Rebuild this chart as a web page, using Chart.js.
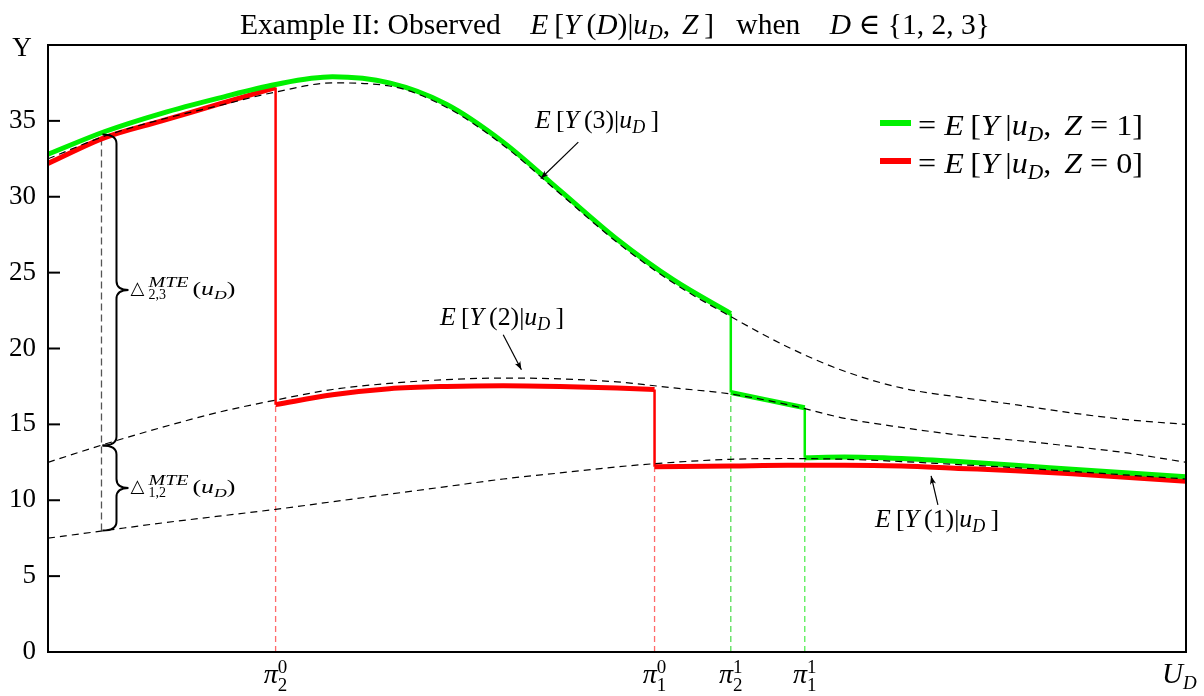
<!DOCTYPE html>
<html><head><meta charset="utf-8">
<script src="https://cdn.jsdelivr.net/npm/chart.js@4.4.1/dist/chart.umd.min.js"></script>
<style>html,body{margin:0;padding:0;background:#fff}canvas{display:block}</style>
</head><body>
<canvas id="chart" width="1204" height="696"></canvas>
<script>
// potential outcome curves E[Y(d)|u_D] on a grid of U_D
const uGrid = [0,0.05,0.1,0.15,0.2,0.25,0.3,0.35,0.4,0.45,0.5,0.55,0.6,0.65,0.7,0.75,0.8,0.85,0.9,0.95,1];
const eY3 = [32.5,34.0,35.1,36.0,36.9,37.5,37.3,35.9,33.4,30.2,27.0,24.3,22.1,20.1,18.5,17.4,16.8,16.3,15.75,15.3,15.0];
const eY2 = [12.5,13.7,14.8,15.8,16.6,17.3,17.7,17.95,18.05,18.0,17.8,17.4,17.0,16.3,15.4,14.8,14.3,13.95,13.55,13.1,12.5];
const eY1 = [7.5,8.0,8.5,8.95,9.4,9.9,10.4,10.9,11.4,11.8,12.2,12.5,12.7,12.75,12.7,12.55,12.35,12.15,11.9,11.65,11.4];

// observed E[Y|u_D, Z=0] (red), three pieces
const redU1 = [0,0.05,0.1,0.15,0.2];
const redY1 = [32.2,33.9,35.0,36.1,37.2];
const redU2 = [0.2,0.25,0.3,0.35,0.4,0.45,0.5,0.533];
const redY2 = [16.3,16.95,17.35,17.5,17.55,17.5,17.4,17.3];
const redU3 = [0.533,0.6,0.65,0.7,0.75,0.8,0.85,0.9,0.95,1];
const redY3 = [12.2,12.25,12.3,12.3,12.25,12.1,11.95,11.75,11.5,11.25];

// observed E[Y|u_D, Z=1] (green), three pieces
const grnU1 = [0,0.05,0.1,0.15,0.2,0.25,0.3,0.35,0.4,0.45,0.5,0.55,0.6];
const grnY1 = [32.8,34.3,35.5,36.5,37.4,37.9,37.5,36.1,33.6,30.4,27.2,24.5,22.3];
const grnU2 = [0.6,0.665];
const grnY2 = [17.1,16.1];
const grnU3 = [0.665,0.7,0.75,0.8,0.85,0.9,0.95,1];
const grnY3 = [12.8,12.85,12.75,12.55,12.3,12.05,11.8,11.55];

// cut points pi_d^z and their labels
const piU = [0.2,0.533,0.6,0.665];
const piSub = ['2','1','2','1'];
const piSup = ['0','0','1','1'];

// MTE braces
const mteU = 0.047;
const mteY = [34.1,13.6,8.0];

const yMin = 0, yMax = 40, yStep = 5;

const pts = (us, ys) => us.map((u,i) => ({x:u, y:ys[i]}));
const first = a => a[0], last = a => a[a.length-1];

const RED = '#ff0000', GREEN = '#00f000';
function curve(data, color, width, order, dash){
  return {data, borderColor:color, borderWidth:width, pointRadius:0, fill:false, order,
    cubicInterpolationMode:'monotone', borderDash:dash||[], borderCapStyle:'butt'};
}
function vline(u, y0, y1, color, width, order, dash){
  return {data:[{x:u,y:y0},{x:u,y:y1}], borderColor:color, borderWidth:width, pointRadius:0,
    fill:false, order, tension:0, borderDash:dash||[], borderCapStyle:'butt'};
}

const datasets = [
  curve(pts(uGrid,eY3),'#000',1.2,0,[7,5]),
  curve(pts(uGrid,eY2),'#000',1.2,0,[7,5]),
  curve(pts(uGrid,eY1),'#000',1.2,0,[7,5]),
  curve(pts(grnU1,grnY1),GREEN,5,1),
  curve(pts(grnU2,grnY2),GREEN,5,1),
  curve(pts(grnU3,grnY3),GREEN,5,1),
  vline(piU[2],last(grnY1),first(grnY2),GREEN,2.5,1),
  vline(piU[3],last(grnY2),first(grnY3),GREEN,2.5,1),
  curve(pts(redU1,redY1),RED,5,2),
  curve(pts(redU2,redY2),RED,5,2),
  curve(pts(redU3,redY3),RED,5,2),
  vline(piU[0],last(redY1),first(redY2),RED,2.5,2),
  vline(piU[1],last(redY2),first(redY3),RED,2.5,2),
  vline(piU[0],0,first(redY2),'#ff6b6b',1.3,5,[6,4]),
  vline(piU[1],0,first(redY3),'#ff6b6b',1.3,5,[6,4]),
  vline(piU[2],0,first(grnY2),'#55dd55',1.3,5,[6,4]),
  vline(piU[3],0,first(grnY3),'#55ee55',1.3,5,[6,4]),
  vline(mteU,mteY[2],mteY[0],'#555',1.3,5,[7,4])
];

const SERIF = '"Liberation Serif","DejaVu Serif",serif';
const R = s => s+'px '+SERIF;
const I = s => 'italic '+s+'px '+SERIF;
const TS = '\u2009';

// runs: [text, font, dy, noAdvance]; width (optional) fits the runs to that width
function mtext(ctx, x, y, runs, align, width){
  let w = 0;
  runs.forEach(r => { ctx.font = r[1]; if (!r[3]) w += ctx.measureText(r[0]).width; });
  const sx = width ? width / w : 1;
  const tw = w * sx;
  const x0 = align==='center' ? x - tw/2 : align==='right' ? x - tw : x;
  ctx.save();
  ctx.translate(x0, y); ctx.scale(sx, 1);
  let cx = 0;
  runs.forEach(r => {
    ctx.font = r[1];
    ctx.fillText(r[0], cx, r[2]||0);
    if (!r[3]) cx += ctx.measureText(r[0]).width;
  });
  ctx.restore();
}
function arrow(ctx, x0, y0, x1, y1){
  ctx.beginPath(); ctx.moveTo(x0,y0); ctx.lineTo(x1,y1); ctx.stroke();
  const a = Math.atan2(y1-y0, x1-x0), h = 9;
  ctx.beginPath();
  ctx.moveTo(x1 - h*Math.cos(a-0.35), y1 - h*Math.sin(a-0.35));
  ctx.quadraticCurveTo(x1 - 5*Math.cos(a), y1 - 5*Math.sin(a), x1 - h*Math.cos(a+0.35), y1 - h*Math.sin(a+0.35));
  ctx.lineTo(x1,y1); ctx.closePath(); ctx.fill();
}
function brace(ctx, x0, yt, yb){
  const xs = x0+14, xt = x0+26, ym = (yt+yb)/2, r = 9;
  ctx.beginPath();
  ctx.moveTo(x0, yt);
  ctx.quadraticCurveTo(xs, yt, xs, yt+r);
  ctx.lineTo(xs, ym-r);
  ctx.quadraticCurveTo(xs, ym, xt, ym);
  ctx.quadraticCurveTo(xs, ym, xs, ym+r);
  ctx.lineTo(xs, yb-r);
  ctx.quadraticCurveTo(xs, yb, x0, yb);
  ctx.stroke();
}
const eLabel = (d, s) => [['E',I(s)],[TS+'[',R(s)],['Y',I(s)],[TS+'('+d+')|',R(s)],['u',I(s)],['D',I(s*0.7),5],[TS+']',R(s)]];
const notes = [
  {d:'3', u:0.4824, v:34.5, from:[0.466,33.6], to:[0.433,31.2]},
  {d:'2', u:0.399, v:21.55, from:[0.400,20.9], to:[0.416,18.6]},
  {d:'1', u:0.7812, v:8.25, from:[0.782,9.7], to:[0.776,11.6]}
];

const decor = {
  id:'decor',
  afterDraw(chart){
    const {ctx, chartArea:a, scales:{x, y}} = chart;
    ctx.save();
    ctx.fillStyle = '#000'; ctx.strokeStyle = '#000';
    ctx.textBaseline = 'alphabetic'; ctx.textAlign = 'left';
    // frame and inward ticks
    ctx.lineWidth = 2;
    ctx.strokeRect(a.left, a.top, a.right-a.left, a.bottom-a.top);
    y.ticks.forEach(t => {
      if (t.value <= yMin || t.value >= yMax) return;
      const py = y.getPixelForValue(t.value);
      ctx.beginPath(); ctx.moveTo(a.left, py); ctx.lineTo(a.left+12, py); ctx.stroke();
    });
    // title
    mtext(ctx, 615, 34, [['Example II: Observed    ',R(29)],['E',I(29)],[TS+'[',R(29)],['Y',I(29)],
      [TS+'(',R(29)],['D',I(29)],[')|',R(29)],['u',I(29)],['D',I(20),5],[','+TS+TS,R(29)],['Z',I(29)],
      [TS+']   when    ',R(29)],['D',I(29)],[' \u2208 {1, 2, 3}',R(29)]], 'center', 750);
    // axis names
    mtext(ctx, 22, 56, [['Y',R(27)]], 'center');
    mtext(ctx, 1162, 683, [['U',I(29)],['D',I(19),6]], 'left');
    // x tick labels
    piU.forEach((u,i) => {
      const px = x.getPixelForValue(u);
      mtext(ctx, px, 683, [['\u03c0',I(28)],[piSup[i],R(19),-10,true],[piSub[i],R(19),8]], 'center');
    });
    // legend
    [[GREEN,'1',123],[RED,'0',161]].forEach(([c,z,py]) => {
      ctx.strokeStyle = c; ctx.lineWidth = 6;
      ctx.beginPath(); ctx.moveTo(880, py); ctx.lineTo(911, py); ctx.stroke();
      mtext(ctx, 918, py+12, [['= ',R(30)],['E',I(30)],[TS+'[',R(30)],['Y',I(30)],[TS+'|',R(30)],['u',I(30)],
        ['D',I(20),6],[','+TS+TS,R(30)],['Z',I(30)],[' = '+z+']',R(30)]], 'left', 225);
    });
    // curve labels with arrows
    ctx.strokeStyle = '#000'; ctx.lineWidth = 1.2;
    notes.forEach(n => {
      mtext(ctx, x.getPixelForValue(n.u), y.getPixelForValue(n.v), eLabel(n.d, 26), 'center', 124);
      arrow(ctx, x.getPixelForValue(n.from[0]), y.getPixelForValue(n.from[1]),
        x.getPixelForValue(n.to[0]), y.getPixelForValue(n.to[1]));
    });
    // MTE braces
    ctx.lineWidth = 2;
    const bx = x.getPixelForValue(mteU) + 1;
    const p = mteY.map(v => y.getPixelForValue(v));
    brace(ctx, bx, p[0], p[1]);
    brace(ctx, bx, p[1], p[2]);
    [['2,3',(p[0]+p[1])/2],['1,2',(p[1]+p[2])/2]].forEach(([s,py]) => {
      mtext(ctx, bx+28, py+4, [['\u25b3',R(18)]], 'left');
      mtext(ctx, bx+46, py+9, [[s,R(14)]], 'left');
      mtext(ctx, bx+46, py-3, [['MTE',I(14)]], 'left', 40);
      mtext(ctx, bx+90, py+5, [['(',R(19)],['u',I(19)],['D',I(13),4],[')',R(19)]], 'left', 43);
    });
    ctx.restore();
  }
};

new Chart(document.getElementById('chart'), {
  type:'line',
  data:{datasets},
  options:{
    responsive:false, animation:false, devicePixelRatio:1,
    layout:{padding:{top:45, right:18, left:0, bottom:0}},
    plugins:{legend:{display:false}, tooltip:{enabled:false}, title:{display:false}},
    scales:{
      x:{type:'linear', min:0, max:1,
        ticks:{display:false}, grid:{display:false}, border:{display:false},
        afterFit:s => { s.height = 44; }},
      y:{type:'linear', min:yMin, max:yMax,
        ticks:{stepSize:yStep, color:'#000', padding:12, font:{family:SERIF, size:27},
          callback:v => v >= yMax ? '' : v},
        grid:{display:false, drawTicks:false}, border:{display:false},
        afterFit:s => { s.width = 48; }}
    }
  },
  plugins:[decor]
});
</script>
</body></html>
